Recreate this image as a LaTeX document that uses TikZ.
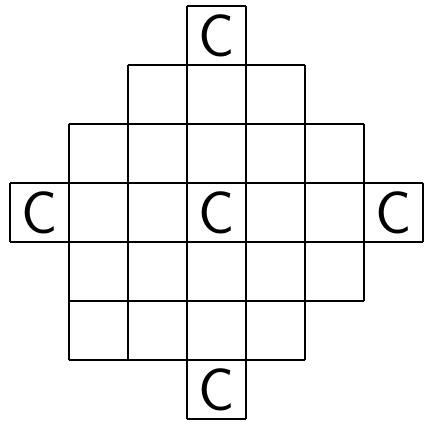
\documentclass[tikz,border=0pt]{standalone}
\usepackage{tikz}

\begin{document}
\begin{tikzpicture}[line width=0.9pt]
\def\M{3.5} % mittlere Spalte
\tikzset{zelle/.style={font=\sffamily\fontsize{29}{29}\selectfont, inner sep=0pt}}
\useasboundingbox (-0.169,-0.034) rectangle (7.051,7.102);

% =========================================================
% Gitter zeilenweise (von oben nach unten)
% =========================================================
\draw (3,6) grid (4,7); % oben
\draw (2,5) grid (5,6);
\draw (1,4) grid (6,5);
\draw (0,3) grid (7,4); % Mitte
\draw (1,2) grid (6,3);
\draw (1,1) grid (5,2);
\draw (3,0) grid (4,1); % unten

% =========================================================
% Beschriftungen
% =========================================================
\node[zelle] (oben) at (\M,6.5) {C};
\node[zelle] (links) at (0.5,3.5) {C};
\node[zelle] (mitte) at (\M,3.5) {C};
\node[zelle] (rechts) at (6.5,3.5) {C};
\node[zelle] (unten) at (\M,0.5) {C};

\end{tikzpicture}
\end{document}
